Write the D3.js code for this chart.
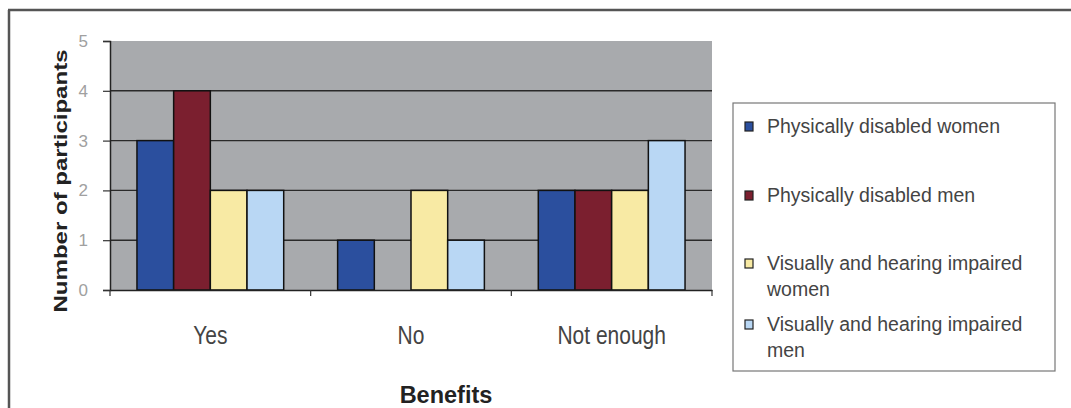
<!DOCTYPE html>
<html>
<head>
<meta charset="utf-8">
<script src="https://cdn.jsdelivr.net/npm/d3@7"></script>
<style>
  body { margin: 0; background: #fff; }
  text { font-family: "Liberation Sans", Arial, sans-serif; }
</style>
</head>
<body>
<div class="chart"></div>
<script>
const categories = ['Yes', 'No', 'Not enough'];
const seriesNames = ['Physically disabled women', 'Physically disabled men',
                     'Visually and hearing impaired women', 'Visually and hearing impaired men'];
const womenPhys = [3, 1, 2];
const menPhys = [4, 0, 2];
const womenVis = [2, 2, 2];
const menVis = [2, 1, 3];
const yTicks = [0, 1, 2, 3, 4, 5];
const legendLines = [['Physically disabled women'], ['Physically disabled men'],
                     ['Visually and hearing impaired', 'women'], ['Visually and hearing impaired', 'men']];

const seriesValues = [womenPhys, menPhys, womenVis, menVis];
const data = categories.map((c, i) => ({cat: c, vals: seriesNames.map((s, j) => ({s: s, v: seriesValues[j][i]}))}));

const width = 1071, height = 408;
const plot = {left: 110, right: 712, top: 41, bottom: 290};

const svg = d3.select('.chart').append('svg')
    .attr('width', width)
    .attr('height', height);

const color = d3.scaleOrdinal()
    .domain(seriesNames)
    .range(['#2b4f9e', '#7b1f2f', '#f8eaa4', '#b9d7f4']);

const x0 = d3.scaleBand().domain(categories).range([plot.left, plot.right]).padding(0);
const x1 = d3.scaleBand().domain(seriesNames).range([0, x0.bandwidth()])
    .paddingInner(0).paddingOuter(0.735);
const y = d3.scaleLinear().domain([0, 5]).range([plot.bottom, plot.top]);

// outer frame (only top and left edges show)
svg.append('line').attr('x1', 8).attr('x2', width).attr('y1', 10).attr('y2', 10)
    .attr('stroke', '#555').attr('stroke-width', 2.5);
svg.append('line').attr('x1', 9).attr('x2', 9).attr('y1', 10).attr('y2', height)
    .attr('stroke', '#555').attr('stroke-width', 2.5);

// plot background
svg.append('rect')
    .attr('x', plot.left).attr('y', plot.top)
    .attr('width', plot.right - plot.left).attr('height', plot.bottom - plot.top)
    .attr('fill', '#a8aaad');

// gridlines
svg.append('g')
  .selectAll('line')
  .data(yTicks.filter(d => d > 0 && d < 5))
  .enter().append('line')
    .attr('x1', plot.left).attr('x2', plot.right)
    .attr('y1', d => y(d)).attr('y2', d => y(d))
    .attr('stroke', '#2a2a2a').attr('stroke-width', 1.4);

// bars
const groups = svg.selectAll('.grp')
  .data(data)
  .enter().append('g')
    .attr('class', 'grp')
    .attr('transform', d => `translate(${x0(d.cat)},0)`);

groups.selectAll('rect')
  .data(d => d.vals.filter(e => e.v > 0))
  .enter().append('rect')
    .attr('x', d => x1(d.s))
    .attr('y', d => y(d.v))
    .attr('width', x1.bandwidth())
    .attr('height', d => y(0) - y(d.v))
    .attr('fill', d => color(d.s))
    .attr('stroke', '#111')
    .attr('stroke-width', 1.5);

// y axis
const yAxis = d3.axisLeft(y).tickValues(yTicks).tickSize(7).tickFormat(d3.format('d'));
const gy = svg.append('g')
    .attr('class', 'axis y-axis')
    .attr('transform', `translate(${plot.left},0)`)
    .call(yAxis);
gy.select('.domain').attr('stroke', '#222').attr('stroke-width', 1.5);
gy.selectAll('.tick line').attr('stroke', '#333').attr('stroke-width', 1.2);
gy.selectAll('.tick text')
    .attr('x', -22)
    .attr('font-family', '"DejaVu Serif", "Liberation Serif", serif')
    .attr('font-size', 17)
    .attr('fill', '#a0a0a0');

// x axis
const xAxis = d3.axisBottom(x0).tickSize(0).tickFormat('');
const gx = svg.append('g')
    .attr('class', 'axis x-axis')
    .attr('transform', `translate(0,${plot.bottom})`)
    .call(xAxis);
gx.select('.domain').attr('stroke', '#222').attr('stroke-width', 1.5);
gx.selectAll('.bound')
  .data(categories.map(c => x0(c)).concat([plot.right]))
  .enter().append('line')
    .attr('x1', d => d).attr('x2', d => d)
    .attr('y1', 0).attr('y2', 6)
    .attr('stroke', '#333').attr('stroke-width', 1.2);

// category labels
svg.append('g').selectAll('text')
  .data(categories)
  .enter().append('text')
    .attr('transform', d => `translate(${x0(d) + x0.bandwidth() / 2},344) scale(1,1.2)`)
    .attr('text-anchor', 'middle')
    .attr('font-size', 21)
    .attr('fill', '#444')
    .text(d => d);

// axis titles
svg.append('text')
    .attr('x', 446)
    .attr('y', 403)
    .attr('text-anchor', 'middle')
    .attr('font-size', 23.5)
    .attr('font-weight', 'bold')
    .attr('fill', '#222')
    .text('Benefits');

svg.append('text')
    .attr('transform', 'translate(67,181) scale(1,1.3) rotate(-90)')
    .attr('text-anchor', 'middle')
    .attr('font-size', 18.5)
    .attr('font-weight', 'bold')
    .attr('fill', '#222')
    .text('Number of participants');

// legend
const legendBaselines = [133, 202, 270, 331];
const legend = svg.append('g');
legend.append('rect')
    .attr('x', 733).attr('y', 103)
    .attr('width', 322).attr('height', 268)
    .attr('fill', '#fff')
    .attr('stroke', '#777').attr('stroke-width', 1.2);

const items = legend.selectAll('.item')
  .data(seriesNames)
  .enter().append('g')
    .attr('class', 'item')
    .attr('transform', (d, i) => `translate(745,${legendBaselines[i]})`);

items.append('rect')
    .attr('x', 0).attr('y', -11)
    .attr('width', 8).attr('height', 9)
    .attr('fill', d => color(d))
    .attr('stroke', '#222').attr('stroke-width', 1.2);

items.append('text')
    .attr('x', 22)
    .attr('font-size', 19.5)
    .attr('fill', '#444')
  .selectAll('tspan')
  .data((d, i) => legendLines[i])
  .enter().append('tspan')
    .attr('x', 22)
    .attr('dy', (d, i) => i === 0 ? 0 : 26)
    .text(d => d);
</script>
</body>
</html>
